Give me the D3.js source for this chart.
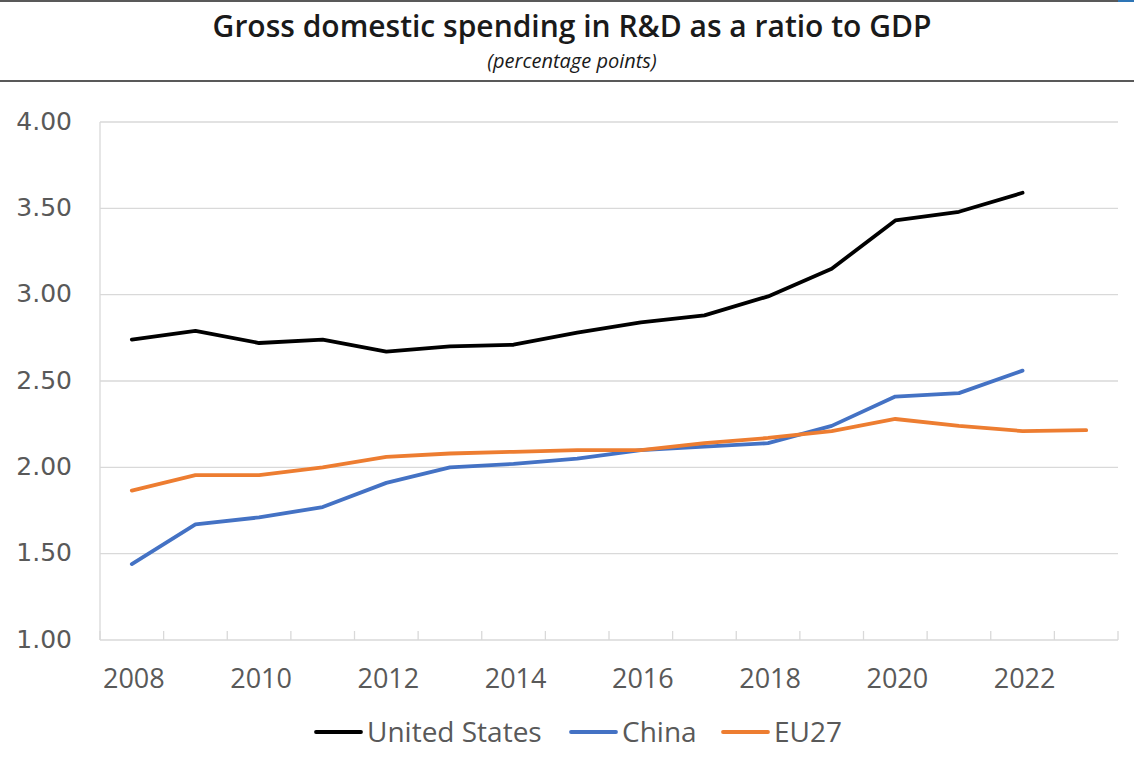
<!DOCTYPE html>
<html>
<head>
<meta charset="utf-8">
<script src="https://cdn.jsdelivr.net/npm/d3@7"></script>
<style>
  html, body { margin: 0; padding: 0; background: #fff; }
  svg { display: block; }
</style>
</head>
<body>
<svg id="chart" width="1134" height="769"></svg>
<script>
const years = [2008, 2009, 2010, 2011, 2012, 2013, 2014, 2015, 2016, 2017, 2018, 2019, 2020, 2021, 2022, 2023];
const unitedStates = [2.74, 2.79, 2.72, 2.74, 2.67, 2.70, 2.71, 2.78, 2.84, 2.88, 2.99, 3.15, 3.43, 3.48, 3.59, null];
const china = [1.44, 1.67, 1.71, 1.77, 1.91, 2.00, 2.02, 2.05, 2.10, 2.12, 2.14, 2.24, 2.41, 2.43, 2.56, null];
const eu27 = [1.865, 1.955, 1.955, 2.00, 2.06, 2.08, 2.09, 2.10, 2.10, 2.14, 2.17, 2.21, 2.28, 2.24, 2.21, 2.215];
const yTicks = [1.0, 1.5, 2.0, 2.5, 3.0, 3.5, 4.0];
const xTickLabels = [2008, 2010, 2012, 2014, 2016, 2018, 2020, 2022];
const seriesNames = ["United States", "China", "EU27"];
const seriesColors = ["#000000", "#4472C4", "#ED7D31"];

(function () {
const series = [
  { name: seriesNames[0], values: unitedStates, color: seriesColors[0] },
  { name: seriesNames[1], values: china, color: seriesColors[1] },
  { name: seriesNames[2], values: eu27, color: seriesColors[2] }
];

const svg = d3.select("#chart");
const font = "'Open Sans', 'Noto Sans', sans-serif";

// Header
svg.append("line").attr("x1", 0).attr("x2", 1134).attr("y1", 1).attr("y2", 1)
  .attr("stroke", "#595959").attr("stroke-width", 2);
svg.append("line").attr("x1", 1118).attr("x2", 1134).attr("y1", 1).attr("y2", 1)
  .attr("stroke", "#2e75b6").attr("stroke-width", 2);
svg.append("text").attr("x", 572).attr("y", 37).attr("text-anchor", "middle")
  .attr("font-family", font).attr("font-weight", 600).attr("font-size", 30)
  .attr("fill", "#1a1a1a").text("Gross domestic spending in R&D as a ratio to GDP");
svg.append("text").attr("x", 572).attr("y", 68).attr("text-anchor", "middle")
  .attr("font-family", font).attr("font-style", "italic").attr("font-size", 20)
  .attr("fill", "#1a1a1a").text("(percentage points)");
svg.append("line").attr("x1", 0).attr("x2", 1134).attr("y1", 81).attr("y2", 81)
  .attr("stroke", "#595959").attr("stroke-width", 2);

// Plot area
const pL = 100, pR = 1118, pT = 122, pB = 640;
const x = d3.scaleBand().domain(years).range([pL, pR]).padding(0);
const y = d3.scaleLinear().domain([1, 4]).range([pB, pT]);

// Gridlines
svg.append("g").selectAll("line").data(yTicks.filter(d => d > 1)).join("line")
  .attr("x1", pL).attr("x2", pR)
  .attr("y1", d => y(d)).attr("y2", d => y(d))
  .attr("stroke", "#d9d9d9").attr("stroke-width", 1.3);

// Left axis border
svg.append("line").attr("x1", pL).attr("x2", pL).attr("y1", pT).attr("y2", pB)
  .attr("stroke", "#d9d9d9").attr("stroke-width", 1.3);

// Y axis labels
const yAxis = d3.axisLeft(y).tickValues(yTicks).tickFormat(d3.format(".2f")).tickSize(0).tickPadding(28);
const gy = svg.append("g").attr("transform", `translate(${pL},0)`).call(yAxis);
gy.select(".domain").remove();
gy.selectAll("text").attr("font-family", "'DejaVu Sans', Verdana, sans-serif")
  .attr("font-size", 25).attr("fill", "#595959").attr("dy", "0.28em");

// X axis
const boundaries = years.map(d => x(d)).concat([pR]);
svg.append("line").attr("x1", pL).attr("x2", pR).attr("y1", pB).attr("y2", pB)
  .attr("stroke", "#d9d9d9").attr("stroke-width", 1.3);
svg.append("g").selectAll("line").data(boundaries).join("line")
  .attr("x1", d => d).attr("x2", d => d).attr("y1", pB).attr("y2", pB - 9)
  .attr("stroke", "#d9d9d9").attr("stroke-width", 1.3);

const xAxis = d3.axisBottom(x).tickValues(xTickLabels).tickSize(0).tickPadding(29);
const gx = svg.append("g").attr("transform", `translate(2,${pB})`).call(xAxis);
gx.select(".domain").remove();
gx.selectAll("text").attr("font-family", font).attr("font-size", 27).attr("fill", "#595959");

// Lines
const line = d3.line()
  .defined(d => d.v !== null)
  .x(d => x(d.year) + x.bandwidth() / 2)
  .y(d => y(d.v));

svg.append("g").selectAll("path").data(series).join("path")
  .attr("d", s => line(years.map((yr, i) => ({ year: yr, v: s.values[i] }))))
  .attr("fill", "none")
  .attr("stroke", s => s.color)
  .attr("stroke-width", 3.8)
  .attr("stroke-linejoin", "round")
  .attr("stroke-linecap", "round");

// Legend
const legendItems = [
  { name: seriesNames[0], color: seriesColors[0], x: 316 },
  { name: seriesNames[1], color: seriesColors[1], x: 571 },
  { name: seriesNames[2], color: seriesColors[2], x: 723 }
];
const lg = svg.append("g").selectAll("g").data(legendItems).join("g")
  .attr("transform", d => `translate(${d.x},732)`);
lg.append("line").attr("x1", 0).attr("x2", 45).attr("y1", 0).attr("y2", 0)
  .attr("stroke", d => d.color).attr("stroke-width", 3.8).attr("stroke-linecap", "round");
lg.append("text").attr("x", 51).attr("y", 0).attr("dy", "0.36em")
  .attr("font-family", font).attr("font-size", 28).attr("fill", "#595959")
  .text(d => d.name);
})();
</script>
</body>
</html>
